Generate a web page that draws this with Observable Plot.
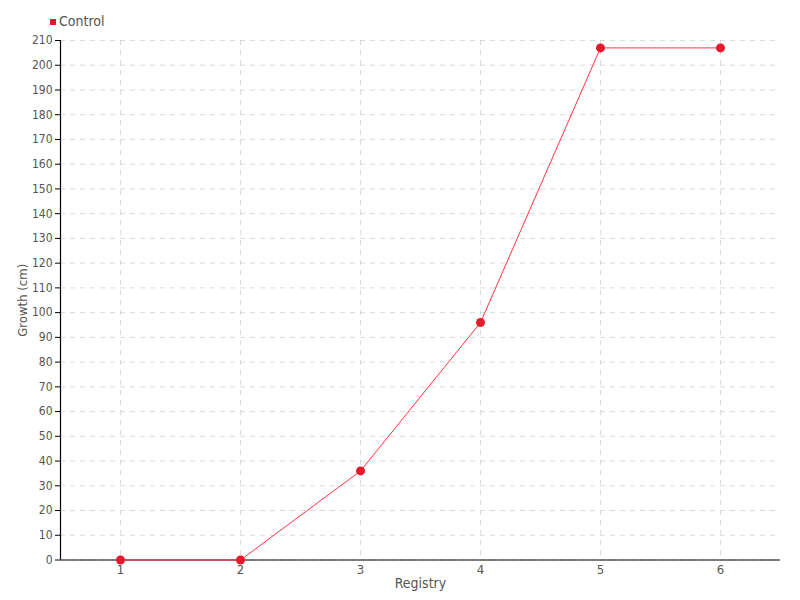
<!DOCTYPE html>
<html><head><meta charset="utf-8">
<script src="https://cdn.jsdelivr.net/npm/d3@7"></script>
<script src="https://cdn.jsdelivr.net/npm/@observablehq/plot@0.6"></script>
<style>
body{margin:0;background:#fff;font-family:"DejaVu Sans Condensed","Liberation Sans Narrow","Roboto Condensed",sans-serif;}
#legend{height:30px;position:relative;color:#555;font-size:14px;}
#legend span.sw{position:absolute;left:50px;top:19px;width:6px;height:6px;background:#e8192c;}
#legend span.lb{position:absolute;left:59px;top:13px;}
#chart{position:relative}
</style></head>
<body>
<div id="legend"><span class="sw"></span><span class="lb">Control</span></div>
<div id="chart"></div>
<script>
const registry = [1, 2, 3, 4, 5, 6];
const growth = [0, 0, 36, 96, 207, 207];
const seriesName = "Control";
const yTicks = d3.range(0, 211, 10);

const data = registry.map((r, i) => ({registry: r, growth: growth[i], series: seriesName}));

const plot = Plot.plot({
  width: 800,
  height: 570,
  marginTop: 10,
  marginBottom: 40.5,
  marginLeft: 60,
  marginRight: 20,
  style: {fontFamily: '"DejaVu Sans Condensed", sans-serif', fontSize: "13px", color: "#555"},
  x: {domain: [0.5, 6.5], label: null},
  y: {domain: [0, 210], label: null},
  marks: [
    Plot.gridX(registry, {stroke: "#ccc", strokeOpacity: 0.7, strokeDasharray: "5,5"}),
    Plot.gridY(yTicks, {stroke: "#ccc", strokeOpacity: 0.7, strokeDasharray: "5,5"}),
    Plot.axisX({ticks: registry, tickFormat: d => String(d), tickSize: 0, tickPadding: 5, fill: "#555", fontSize: 13, label: null}),
    Plot.axisY({ticks: yTicks, tickFormat: d => String(d), tickSize: 5, tickPadding: 3, fill: "#555", stroke: "#000", fontSize: 12, label: null}),
    Plot.ruleX([0.5], {stroke: "#000", strokeWidth: 1.2}),
    Plot.ruleY([0], {stroke: "#000", strokeWidth: 1.2}),
    Plot.line(data, {x: "registry", y: "growth", stroke: "#ff3344", strokeWidth: 1}),
    Plot.dot(data, {x: "registry", y: "growth", r: 4.5, fill: "#e8192c", stroke: "none"}),
    Plot.text([{t: "Registry"}], {frameAnchor: "bottom", text: "t", dy: 28, fill: "#555", fontSize: 14}),
    Plot.text([{t: "Growth (cm)"}], {frameAnchor: "left", textAnchor: "middle", text: "t", rotate: -90, dx: -38, fill: "#555", fontSize: 13})
  ]
});
document.getElementById("chart").appendChild(plot);
</script>
</body></html>
